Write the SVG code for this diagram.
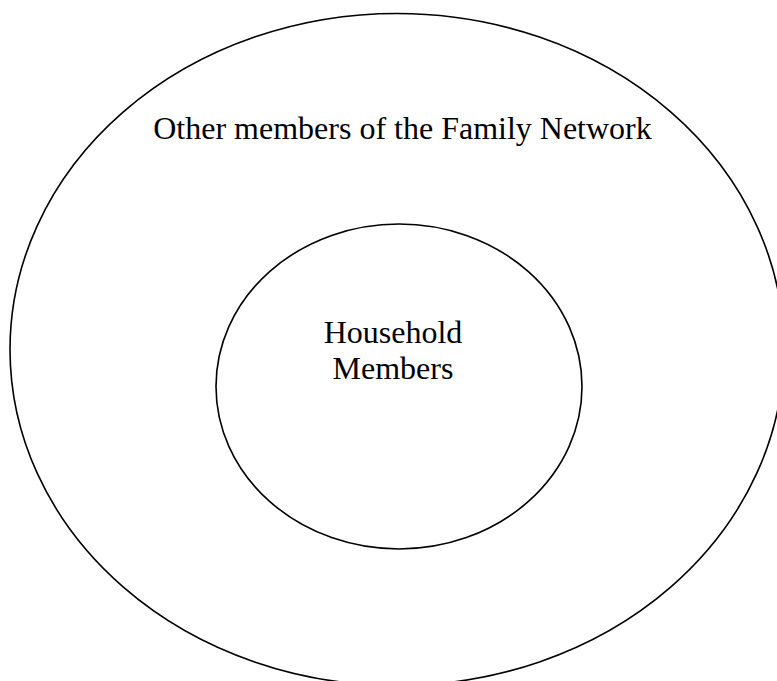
<svg xmlns="http://www.w3.org/2000/svg" width="777" height="681" viewBox="0 0 777 681">
<style>
.shape{fill:#ffffff;stroke:#000000;stroke-width:1.6}
.lbl{font-family:"Liberation Serif","Times New Roman",serif;font-size:32px;fill:#000000;text-anchor:middle}
</style>
<rect width="777" height="681" fill="#ffffff"/>
<g id="outer">
<ellipse class="shape" cx="397" cy="349.5" rx="387" ry="336"/>
<text class="lbl" x="402.5" y="139.3">Other members of the Family Network</text>
</g>
<g id="inner">
<ellipse class="shape" cx="399" cy="386.5" rx="183" ry="162.5"/>
<text class="lbl" x="393" y="342.7">Household</text>
<text class="lbl" x="393" y="379">Members</text>
</g>
<g id="connectors"></g>
</svg>
